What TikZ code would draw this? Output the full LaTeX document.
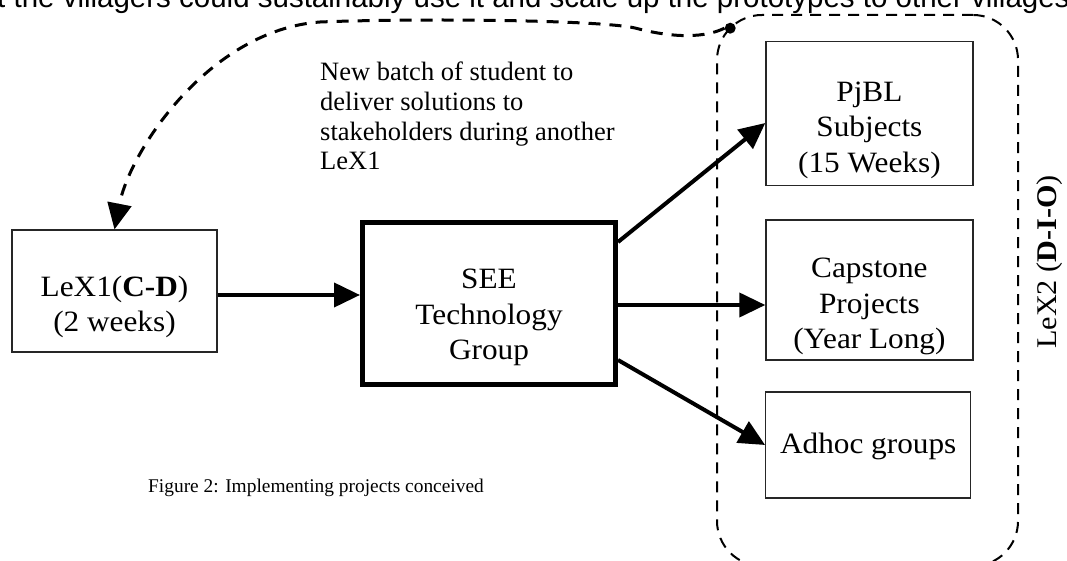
\documentclass[tikz,border=0pt]{standalone}
\usepackage{fontspec}
\setmainfont{Liberation Serif}
\newfontfamily\boxfont{Liberation Serif}[FakeStretch=1.06]
\newfontfamily\topsans{Liberation Sans}
\usetikzlibrary{arrows.meta}
\begin{document}
\begin{tikzpicture}[x=1pt,y=-1pt,
  thinbox/.style={draw=black!85, line width=1.2pt, inner sep=0pt},
  seebox/.style={draw=black, line width=5pt, inner sep=0pt},
  boxtext/.style={align=center, inner sep=0pt, font=\boxfont\fontsize{29.5}{35.5}\selectfont},
  arr/.style={line width=4pt, -{Triangle[length=26pt,width=24pt]}},
  dasharr/.style={line width=3pt, dash pattern=on 12pt off 9pt, -{Triangle[length=26pt,width=24pt]}},
  grpbox/.style={draw=black, line width=2pt, dash pattern=on 11pt off 8pt, rounded corners=45pt, inner sep=0pt}
]
\useasboundingbox (0,0) rectangle (1067,561);
\clip (0,0) rectangle (1067,561);

% cut-off line of text at the top
\node[anchor=base west, inner sep=0pt, font=\topsans\fontsize{29.5}{34}\selectfont] (toptext) at (-3,8)
  {t the villagers could sustainably use it and scale up the prototypes to other villages};

% dashed group
\node[grpbox, minimum width=301pt, minimum height=551pt] (grp) at (867.5,290.5) {};
\node[circle, fill=black, inner sep=0pt, minimum size=11pt] (dot) at (730.2,28.2) {};

% boxes
\node[thinbox, minimum width=205pt, minimum height=122pt] (lex1) at (114.5,291) {};
\node[seebox, minimum width=253pt, minimum height=162pt] (see) at (489,303.5) {};
\node[thinbox, minimum width=207pt, minimum height=144pt] (pjbl) at (869.4,113.7) {};
\node[thinbox, minimum width=207pt, minimum height=140pt] (cap) at (869.4,290) {};
\node[thinbox, minimum width=205pt, minimum height=106pt] (adhoc) at (868.2,445) {};

% box texts
\node[boxtext] (lex1t) at (114.5,307) {LeX1(\textbf{C-D})\\(2 weeks)};
\node[boxtext] (seet) at (489,317.5) {SEE\\Technology\\Group};
\node[boxtext] (pjblt) at (869.4,130) {PjBL\\Subjects\\(15 Weeks)};
\node[boxtext] (capt) at (869.4,306.5) {Capstone\\Projects\\(Year Long)};
\node[boxtext] (adhoct) at (868.2,446.5) {Adhoc groups};

% rotated group label
\node[rotate=90, inner sep=0pt, font=\boxfont\fontsize{28.5}{34}\selectfont] (lex2) at (1050,262) {LeX2 (\textbf{D-I-O})};

% annotation
\node[anchor=north west, align=left, inner sep=0pt, font=\fontsize{26.5}{29.7}\selectfont] (note) at (320,62)
  {New batch of student to\\deliver solutions to\\stakeholders during another\\LeX1};

% caption
\node[anchor=base west, inner sep=0pt, font=\fontsize{19.4}{23}\selectfont] (caption) at (148,492)
  {Figure 2: Implementing projects conceived};

% connectors
\draw[arr] (lex1.east |- 0,295) -- (see.west |- 0,295);
\draw[arr] (see.east |- 0,242) -- (pjbl.west |- 0,123);
\draw[arr] (see.east |- 0,305) -- (cap.west |- 0,305);
\draw[arr] (see.east |- 0,360) -- (adhoc.west |- 0,445);

\draw[dasharr] (dot.west) .. controls (700,40) and (665,36) .. (635,28)
  .. controls (600,20) and (420,18) .. (320,22)
  .. controls (210,30) and (130,150) .. (lex1.north);
\end{tikzpicture}
\end{document}
